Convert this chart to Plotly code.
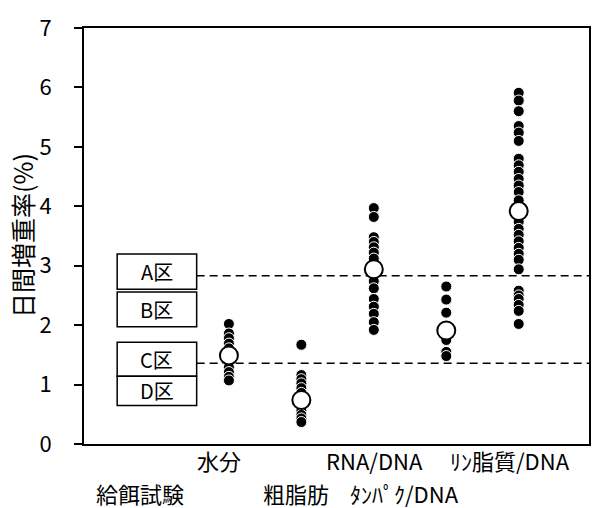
import plotly.graph_objects as go

# ---- data ----
categories = ["給餌試験", "水分", "粗脂肪", "RNA/DNA", "ﾀﾝﾊﾟｸ/DNA", "ﾘﾝ脂質/DNA"]
moisture = [2.02, 1.86, 1.78, 1.69, 1.61, 1.54, 1.45, 1.37, 1.29, 1.21, 1.13, 1.07]
crude_fat = [1.67, 1.16, 1.09, 1.02, 0.94, 0.86, 0.79, 0.71, 0.63, 0.56, 0.49, 0.43, 0.37]
rna_dna = [3.97, 3.82, 3.48, 3.40, 3.31, 3.22, 3.12, 2.95, 2.74, 2.62, 2.44, 2.31, 2.19, 2.05, 1.92]
protein_dna = [2.65, 2.43, 2.21, 1.75, 1.55, 1.48]
phospholipid_dna = [5.91, 5.78, 5.60, 5.35, 5.24, 5.10, 4.80, 4.69, 4.58, 4.46, 4.35, 4.24,
                    4.10, 3.95, 3.74, 3.62, 3.52, 3.41, 3.30, 3.20, 3.10, 2.94, 2.58, 2.50,
                    2.44, 2.34, 2.24, 2.02]
means = [1.49, 0.74, 2.94, 1.91, 3.92]
series = [moisture, crude_fat, rna_dna, protein_dna, phospholipid_dna]
line_AB = 2.83
line_CD = 1.36
zone_labels = ["A区", "B区", "C区", "D区"]
zone_bounds = [(2.603, 3.197), (1.975, 2.558), (1.142, 1.713), (0.647, 1.142)]
y_ticks = [0, 1, 2, 3, 4, 5, 6, 7]

# ---- layout helpers (pixel shifts for staggered labels) ----
label_rows = [2, 1, 2, 1, 2, 1]
label_shift = [-16, -10, -5, 1, -42, -9]

FONT = "Noto Sans CJK JP"

fig = go.Figure()

xs, ys = [], []
for cat, vals in zip(categories[1:], series):
    xs += [cat] * len(vals)
    ys += vals
fig.add_trace(go.Scatter(
    x=xs, y=ys, mode="markers",
    marker=dict(size=11, color="black", line=dict(color="white", width=1)),
    showlegend=False, hoverinfo="y"))
fig.add_trace(go.Scatter(
    x=categories[1:], y=means, mode="markers",
    marker=dict(size=18, color="white", line=dict(color="black", width=2)),
    showlegend=False, hoverinfo="y"))

box_x0, box_x1 = -0.542, 0.555
shapes = []
for (lo, hi) in zone_bounds:
    shapes.append(dict(type="rect", xref="x", yref="y", x0=box_x0, x1=box_x1, y0=lo, y1=hi,
                       line=dict(color="black", width=1.5), fillcolor="white", layer="below"))
for yv in (line_AB, line_CD):
    shapes.append(dict(type="line", xref="x", yref="y", x0=box_x1, x1=5.97, y0=yv, y1=yv,
                       line=dict(color="black", width=1.5, dash="8px,5px"), layer="below"))

annotations = []
for lab, (lo, hi) in zip(zone_labels, zone_bounds):
    annotations.append(dict(x=(box_x0 + box_x1) / 2, y=(lo + hi) / 2, xref="x", yref="y",
                            text=lab, showarrow=False, font=dict(size=20, family=FONT, color="black")))
for cat, row, sh in zip(categories, label_rows, label_shift):
    annotations.append(dict(x=cat, y=0, xref="x", yref="paper", yanchor="middle",
                            yshift=-16 if row == 1 else -49, xshift=sh, borderpad=0,
                            text=cat, showarrow=False,
                            font=dict(size=22, family=FONT, color="black")))
annotations.append(dict(x=0, y=0.5, xref="paper", yref="paper", xshift=-62,
                        xanchor="center", yanchor="middle",
                        text="日間増重率(%)", textangle=-90, showarrow=False,
                        font=dict(size=25, family=FONT, color="black")))

fig.update_layout(
    width=601, height=508,
    margin=dict(l=84, r=10, t=24, b=64),
    paper_bgcolor="white", plot_bgcolor="white",
    shapes=shapes, annotations=annotations,
    xaxis=dict(type="category", categoryorder="array", categoryarray=categories,
               range=[-1, 5.97], showticklabels=False, ticks="", showgrid=False,
               zeroline=False, showline=True, linecolor="black", linewidth=2, mirror=True),
    yaxis=dict(range=[0, 7], tickvals=y_ticks, ticks="outside", ticklen=8, tickwidth=2,
               tickcolor="black", showgrid=False, zeroline=False, showline=True,
               linecolor="black", linewidth=2, mirror=True, ticklabelstandoff=18,
               tickfont=dict(size=22, family=FONT, color="black")),
)

fig.write_html("out.html")
